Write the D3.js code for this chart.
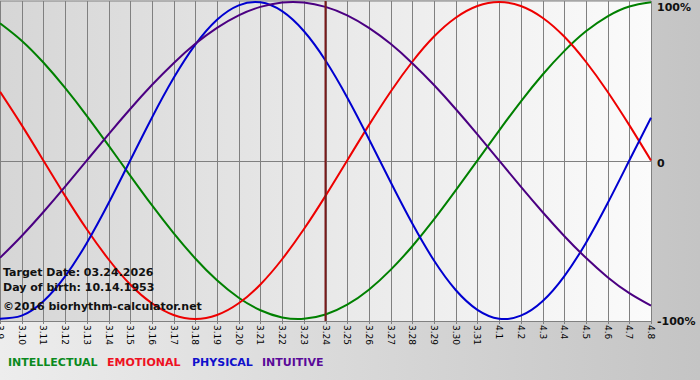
<!DOCTYPE html>
<html>
<head>
<meta charset="utf-8">
<style>
    body { margin: 0; }
    svg { display: block; }
    text { font-family: 'DejaVu Sans', Verdana, sans-serif; }
</style>
</head>
<body>
<svg width="700" height="380"></svg>

<script src="https://d3js.org/d3.v7.min.js"></script>
<script>
    // days shown on the chart (03.09 to 04.08)
    let days = ["3.9","3.10","3.11","3.12","3.13","3.14","3.15","3.16","3.17","3.18","3.19","3.20",
        "3.21","3.22","3.23","3.24","3.25","3.26","3.27","3.28","3.29","3.30","3.31",
        "4.1","4.2","4.3","4.4","4.5","4.6","4.7","4.8"]

    // values in percent, one per day
    let physical = [-99.8,-97.9,-88.8,-73.1,-52.0,-27.0,0,27.0,52.0,73.1,88.8,97.9,99.8,94.2,81.7,63.1,
        39.8,13.6,-13.6,-39.8,-63.1,-81.7,-94.2,-99.8,-97.9,-88.8,-73.1,-52.0,-27.0,0,27.0]
    let emotional = [43.4,22.3,0,-22.3,-43.4,-62.3,-78.2,-90.1,-97.5,-100,-97.5,-90.1,-78.2,-62.3,-43.4,-22.3,
        0,22.3,43.4,62.3,78.2,90.1,97.5,100,97.5,90.1,78.2,62.3,43.4,22.3,0]
    let intellectual = [86.6,75.6,61.8,45.8,28.2,9.5,-9.5,-28.2,-45.8,-61.8,-75.6,-86.6,-94.5,-99.0,-99.9,-97.2,
        -91.0,-81.5,-69.0,-54.1,-37.2,-18.9,0,18.9,37.2,54.1,69.0,81.5,91.0,97.2,99.9]
    let intuitive = [-61.4,-47.6,-32.5,-16.5,0,16.5,32.5,47.6,61.4,73.6,83.7,91.6,96.9,99.7,99.7,96.9,
        91.6,83.7,73.6,61.4,47.6,32.5,16.5,0,-16.5,-32.5,-47.6,-61.4,-73.6,-83.7,-91.6]

    let yTicks = [100, 0, -100]
    let yTickLabels = ["100%", "0", "-100%"]
    let targetDay = "3.24"

    let series = [
        { name: "INTELLECTUAL", values: intellectual, color: "#008000", legend: "#0a8a1e" },
        { name: "EMOTIONAL", values: emotional, color: "#ee0000", legend: "#ee1122" },
        { name: "PHYSICAL", values: physical, color: "#0000d0", legend: "#1010cc" },
        { name: "INTUITIVE", values: intuitive, color: "#4b0082", legend: "#5a0a99" }
    ]

    let svg = d3.select("svg")
    let plotW = 651
    let defs = svg.append("defs")

    let bgGrad = defs.append("linearGradient").attr("id", "bg")
        .attr("x1", 0).attr("y1", 0).attr("x2", 1).attr("y2", 0)
    bgGrad.append("stop").attr("offset", 0).attr("stop-color", "#ededed")
    bgGrad.append("stop").attr("offset", 1).attr("stop-color", "#c4c4c4")

    let plotGrad = defs.append("linearGradient").attr("id", "plotbg")
        .attr("x1", 0).attr("y1", 0).attr("x2", 1).attr("y2", 0)
    plotGrad.append("stop").attr("offset", 0).attr("stop-color", "#d6d6d6")
    plotGrad.append("stop").attr("offset", 1).attr("stop-color", "#fbfbfb")

    svg.append("rect").attr("width", 700).attr("height", 380).attr("fill", "url(#bg)")

    let x = d3.scaleLinear().domain([0, days.length - 1]).range([0, plotW])
    let y = d3.scaleLinear().domain([-100, 100]).range([319, 2])

    svg.append("rect")
        .attr("x", 0).attr("y", 1)
        .attr("width", plotW).attr("height", 320)
        .attr("fill", "url(#plotbg)")

    // vertical grid lines + ticks
    svg.append("g")
        .selectAll("line")
        .data(days)
        .join("line")
        .attr("x1", (d, i) => Math.round(x(i)) + 0.5)
        .attr("x2", (d, i) => Math.round(x(i)) + 0.5)
        .attr("y1", 1)
        .attr("y2", 324)
        .style("stroke", "#808080")
        .style("stroke-width", 1)

    // horizontal lines: top, zero, bottom
    svg.append("g")
        .selectAll("line")
        .data([1, Math.round(y(0)) + 0.5, 321.5])
        .join("line")
        .attr("x1", 0).attr("x2", plotW)
        .attr("y1", d => d).attr("y2", d => d)
        .style("stroke", "#808080")
        .style("stroke-width", 1)

    // day labels, rotated
    svg.append("g")
        .selectAll("text")
        .data(days)
        .join("text")
        .attr("transform", (d, i) => "translate(" + (Math.round(x(i)) + 0.5) + ",325) rotate(90)")
        .attr("dy", "0.35em")
        .style("font-size", "9px")
        .style("fill", "#000")
        .text(d => d)

    // right side labels
    svg.append("g")
        .selectAll("text")
        .data(yTicks)
        .join("text")
        .attr("x", 657)
        .attr("y", d => d == 100 ? y(d) + 9 : y(d) + 6)
        .style("font-size", "11px")
        .style("font-weight", "bold")
        .style("fill", "#111")
        .text((d, i) => yTickLabels[i])

    let line = d3.line()
        .x((d, i) => x(i))
        .y(d => y(d))
        .curve(d3.curveNatural)

    svg.append("g")
        .selectAll("path")
        .data(series)
        .join("path")
        .attr("d", d => line(d.values))
        .style("fill", "none")
        .style("stroke", d => d.color)
        .style("stroke-width", 2)

    // target day marker
    let ti = days.indexOf(targetDay)
    svg.append("line")
        .attr("x1", x(ti)).attr("x2", x(ti))
        .attr("y1", 1).attr("y2", 321)
        .style("stroke", "#7a1a1a")
        .style("stroke-width", 2)

    // info text
    let info = ["Target Date: 03.24.2026", "Day of birth: 10.14.1953", "\u00a92016 biorhythm-calculator.net"]
    svg.append("g")
        .selectAll("text")
        .data(info)
        .join("text")
        .attr("x", 3)
        .attr("y", (d, i) => [276, 291, 310][i])
        .style("font-size", "11px")
        .style("font-weight", "bold")
        .style("fill", "#111")
        .text(d => d)

    // legend
    let lx = [8, 107, 192, 262]
    svg.append("g")
        .selectAll("text")
        .data(series)
        .join("text")
        .attr("x", (d, i) => lx[i])
        .attr("y", 366)
        .style("font-size", "11px")
        .style("font-weight", "bold")
        .style("fill", d => d.legend)
        .text(d => d.name)
</script>
</body>
</html>
